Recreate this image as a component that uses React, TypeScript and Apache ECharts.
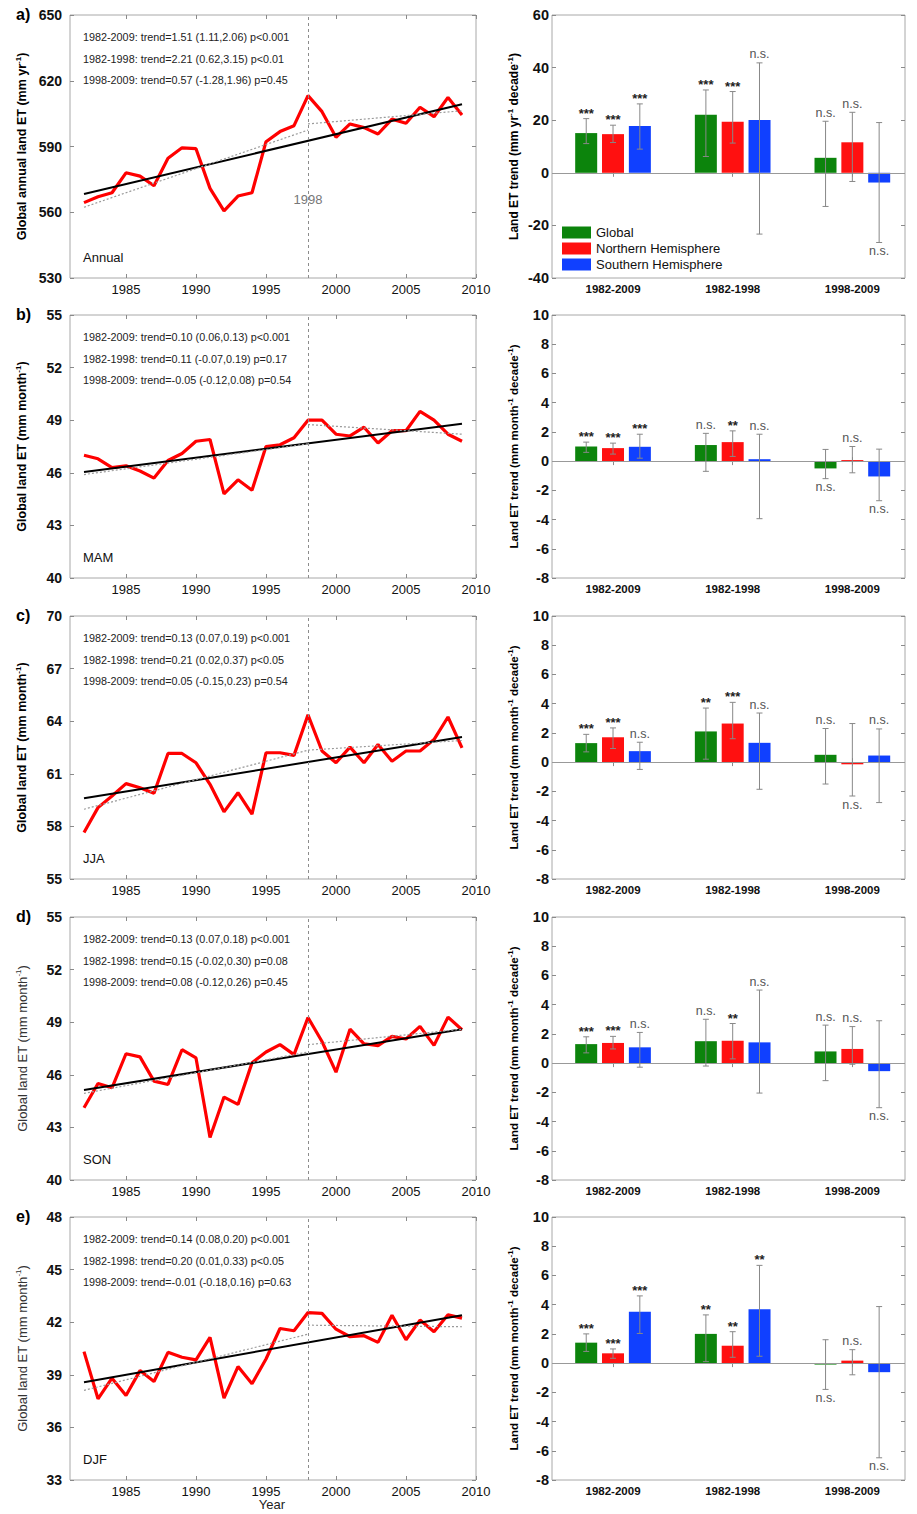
import React, { useEffect, useRef } from "react";
import * as echarts from "echarts";

const years = [1982, 1983, 1984, 1985, 1986, 1987, 1988, 1989, 1990, 1991, 1992, 1993, 1994, 1995, 1996, 1997, 1998, 1999, 2000, 2001, 2002, 2003, 2004, 2005, 2006, 2007, 2008, 2009];
const yearTicks = [1985, 1990, 1995, 2000, 2005, 2010];
const breakYear = 1998;

const annualET = [564.4, 567.1, 568.9, 578.0, 576.5, 572.1, 584.6, 589.4, 589.0, 570.9, 560.6, 567.4, 568.9, 592.2, 596.8, 599.5, 613.2, 605.9, 594.2, 600.3, 598.6, 595.7, 602.5, 600.6, 607.9, 603.6, 612.4, 604.4];
const mamET = [47.0, 46.8, 46.3, 46.4, 46.1, 45.7, 46.7, 47.1, 47.8, 47.9, 44.8, 45.6, 45.0, 47.5, 47.6, 48.0, 49.0, 49.0, 48.2, 48.1, 48.6, 47.7, 48.4, 48.4, 49.5, 49.0, 48.2, 47.8];
const jjaET = [57.65, 59.07, 59.73, 60.44, 60.2, 59.89, 62.16, 62.16, 61.63, 60.4, 58.83, 59.92, 58.7, 62.2, 62.2, 62.05, 64.37, 62.3, 61.63, 62.52, 61.63, 62.67, 61.72, 62.3, 62.3, 62.95, 64.24, 62.48];
const sonET = [44.12, 45.5, 45.26, 47.2, 47.02, 45.64, 45.45, 47.43, 46.96, 42.42, 44.73, 44.31, 46.68, 47.3, 47.72, 47.15, 49.27, 47.9, 46.15, 48.6, 47.77, 47.66, 48.19, 48.04, 48.76, 47.68, 49.29, 48.57];
const djfET = [40.32, 37.63, 38.81, 37.82, 39.24, 38.62, 40.28, 40.0, 39.85, 41.13, 37.67, 39.47, 38.49, 39.9, 41.64, 41.51, 42.55, 42.5, 41.6, 41.17, 41.23, 40.85, 42.4, 41.0, 42.12, 41.46, 42.42, 42.23];

// fitted trend lines: [1982-2009 start, end], [1982-1998 start, end], [1998-2009 start, end]
const annualFit = [[568.3, 609.3], [562.3, 597.5], [600.3, 606.3]];
const mamFit = [[46.05, 48.8], [45.9, 47.65], [48.75, 48.2]];
const jjaFit = [[59.6, 63.1], [58.98, 62.35], [62.35, 62.9]];
const sonFit = [[45.13, 48.6], [44.94, 47.3], [47.72, 48.6]];
const djfFit = [[38.58, 42.4], [38.11, 41.32], [41.83, 41.74]];

const annualTicks = [530, 560, 590, 620, 650];
const mamTicks = [40, 43, 46, 49, 52, 55];
const jjaTicks = [55, 58, 61, 64, 67, 70];
const sonTicks = [40, 43, 46, 49, 52, 55];
const djfTicks = [33, 36, 39, 42, 45, 48];

const annualNotes = ["1982-2009: trend=1.51 (1.11,2.06) p<0.001", "1982-1998: trend=2.21 (0.62,3.15) p<0.01", "1998-2009: trend=0.57 (-1.28,1.96) p=0.45"];
const mamNotes = ["1982-2009: trend=0.10 (0.06,0.13) p<0.001", "1982-1998: trend=0.11 (-0.07,0.19) p=0.17", "1998-2009: trend=-0.05 (-0.12,0.08) p=0.54"];
const jjaNotes = ["1982-2009: trend=0.13 (0.07,0.19) p<0.001", "1982-1998: trend=0.21 (0.02,0.37) p<0.05", "1998-2009: trend=0.05 (-0.15,0.23) p=0.54"];
const sonNotes = ["1982-2009: trend=0.13 (0.07,0.18) p<0.001", "1982-1998: trend=0.15 (-0.02,0.30) p=0.08", "1998-2009: trend=0.08 (-0.12,0.26) p=0.45"];
const djfNotes = ["1982-2009: trend=0.14 (0.08,0.20) p<0.001", "1982-1998: trend=0.20 (0.01,0.33) p<0.05", "1998-2009: trend=-0.01 (-0.18,0.16) p=0.63"];

const periods = ["1982-2009", "1982-1998", "1998-2009"];
const regions = ["Global", "Northern Hemisphere", "Southern Hemisphere"];

// bar values per region (rows: Global, NH, SH), per period
const annualBar = [[15.1, 22.1, 5.7], [14.7, 19.4, 11.6], [17.8, 20.1, -3.7]];
const annualLow = [[11.1, 6.2, -12.8], [11.5, 11.3, -3.3], [9.0, -23.3, -26.5]];
const annualHigh = [[20.6, 31.5, 19.6], [18.1, 30.9, 23.0], [26.2, 41.8, 19.1]];
const annualSig = [["***", "***", "n.s."], ["***", "***", "n.s."], ["***", "n.s.", "n.s."]];

const mamBar = [[1.0, 1.1, -0.5], [0.89, 1.3, 0.07], [0.98, 0.13, -1.05]];
const mamLow = [[0.6, -0.7, -1.2], [0.48, 0.32, -0.8], [0.2, -3.94, -2.71]];
const mamHigh = [[1.3, 1.9, 0.8], [1.23, 2.07, 1.0], [1.84, 1.84, 0.82]];
const mamSig = [["***", "n.s.", "n.s."], ["***", "**", "n.s."], ["***", "n.s.", "n.s."]];

const jjaBar = [[1.3, 2.1, 0.5], [1.7, 2.64, -0.15], [0.75, 1.32, 0.45]];
const jjaLow = [[0.7, 0.2, -1.5], [0.93, 1.6, -2.32], [-0.5, -1.86, -2.77]];
const jjaHigh = [[1.9, 3.7, 2.3], [2.34, 4.09, 2.64], [1.36, 3.36, 2.27]];
const jjaSig = [["***", "**", "n.s."], ["***", "***", "n.s."], ["n.s.", "n.s.", "n.s."]];

const sonBar = [[1.3, 1.5, 0.8], [1.38, 1.53, 0.97], [1.08, 1.42, -0.55]];
const sonLow = [[0.7, -0.2, -1.2], [0.97, 0.29, -0.08], [-0.28, -2.05, -3.05]];
const sonHigh = [[1.8, 3.0, 2.6], [1.83, 2.71, 2.5], [2.1, 5.0, 2.9]];
const sonSig = [["***", "n.s.", "n.s."], ["***", "**", "n.s."], ["n.s.", "n.s.", "n.s."]];

const djfBar = [[1.4, 2.0, -0.1], [0.67, 1.19, 0.17], [3.51, 3.69, -0.62]];
const djfLow = [[0.8, 0.1, -1.8], [0.33, 0.4, -0.8], [2.03, 0.47, -6.48]];
const djfHigh = [[2.0, 3.3, 1.6], [0.97, 2.15, 0.92], [4.6, 6.69, 3.87]];
const djfSig = [["***", "**", "n.s."], ["***", "**", "n.s."], ["***", "**", "n.s."]];

const FONT = "'Liberation Sans', Arial, Helvetica, sans-serif";
const COLORS = ["#0c840c", "#ff1010", "#1040ff"];
const LEFT_X = 70;
const LEFT_W = 406;
const RIGHT_X = 552;
const RIGHT_W = 353;
const PH = 263;
const TOPS = [15, 315, 616, 917, 1217];
const STEP = 26.8;

const nameYr = "{b|Global annual land ET (mm yr}{s|-1}{b|)}";
const nameMonth = "{b|Global land ET (mm month}{s|-1}{b|)}";
const barNameYr = "{b|Land ET trend (mm yr}{s|-1}{b| decade}{s|-1}{b|)}";
const barNameMonth = "{b|Land ET trend (mm month}{s|-1}{b| decade}{s|-1}{b|)}";

const rows = [
  { letter: "a)", season: "Annual", et: annualET, fit: annualFit, ticks: annualTicks, notes: annualNotes, name: nameYr, nameBold: true, bar: annualBar, low: annualLow, high: annualHigh, sig: annualSig, bMin: -40, bMax: 60, bInt: 20, bName: barNameYr, bNameSize: 12 },
  { letter: "b)", season: "MAM", et: mamET, fit: mamFit, ticks: mamTicks, notes: mamNotes, name: nameMonth, nameBold: true, bar: mamBar, low: mamLow, high: mamHigh, sig: mamSig, bMin: -8, bMax: 10, bInt: 2, bName: barNameMonth, bNameSize: 11.5 },
  { letter: "c)", season: "JJA", et: jjaET, fit: jjaFit, ticks: jjaTicks, notes: jjaNotes, name: nameMonth, nameBold: true, bar: jjaBar, low: jjaLow, high: jjaHigh, sig: jjaSig, bMin: -8, bMax: 10, bInt: 2, bName: barNameMonth, bNameSize: 11.5 },
  { letter: "d)", season: "SON", et: sonET, fit: sonFit, ticks: sonTicks, notes: sonNotes, name: nameMonth, nameBold: false, bar: sonBar, low: sonLow, high: sonHigh, sig: sonSig, bMin: -8, bMax: 10, bInt: 2, bName: barNameMonth, bNameSize: 11.5 },
  { letter: "e)", season: "DJF", et: djfET, fit: djfFit, ticks: djfTicks, notes: djfNotes, name: nameMonth, nameBold: false, bar: djfBar, low: djfLow, high: djfHigh, sig: djfSig, bMin: -8, bMax: 10, bInt: 2, bName: barNameMonth, bNameSize: 11.5 },
];

function richName(size: number, bold: boolean, color: string) {
  return {
    b: { fontSize: size, fontWeight: bold ? "bold" : "normal", color, fontFamily: FONT, lineHeight: 16 },
    s: { fontSize: 8, fontWeight: bold ? "bold" : "normal", color, fontFamily: FONT, verticalAlign: "top" },
  };
}

function buildOption() {
  const grid: any[] = [];
  const xAxis: any[] = [];
  const yAxis: any[] = [];
  const series: any[] = [];
  const graphic: any[] = [];
  const tickStyle = { inside: true, length: 4, lineStyle: { color: "#8a8a8a", width: 1 } };

  rows.forEach((r, p) => {
    const top = TOPS[p];
    // ----- left panel -----
    const gL = grid.length;
    grid.push({ left: LEFT_X, top, width: LEFT_W, height: PH, show: true, borderColor: "#a8a8a8", borderWidth: 1 });
    xAxis.push({
      type: "value", gridIndex: gL, min: 1981, max: 2010, position: "bottom",
      axisLine: { show: false }, splitLine: { show: false },
      axisTick: { ...tickStyle, customValues: yearTicks },
      axisLabel: { customValues: yearTicks, fontSize: 13, color: "#111", margin: 5, fontFamily: FONT, formatter: (v: number) => String(v) },
    });
    xAxis.push({
      type: "value", gridIndex: gL, min: 1981, max: 2010, position: "top",
      axisLine: { show: false }, splitLine: { show: false },
      axisTick: { ...tickStyle, customValues: yearTicks }, axisLabel: { show: false },
    });
    const nameColor = r.nameBold ? "#000" : "#333";
    yAxis.push({
      type: "value", gridIndex: gL, min: r.ticks[0], max: r.ticks[r.ticks.length - 1], position: "left",
      axisLine: { show: false }, splitLine: { show: false },
      axisTick: { ...tickStyle, customValues: r.ticks },
      axisLabel: { customValues: r.ticks, fontSize: 14, fontWeight: "bold", color: "#111", margin: 8, fontFamily: FONT, formatter: (v: number) => String(v) },
      name: r.name, nameLocation: "middle", nameGap: 40,
      nameTextStyle: { rich: richName(r.nameBold ? 12.5 : 13, r.nameBold, nameColor) },
    });
    yAxis.push({
      type: "value", gridIndex: gL, min: r.ticks[0], max: r.ticks[r.ticks.length - 1], position: "right",
      axisLine: { show: false }, splitLine: { show: false },
      axisTick: { ...tickStyle, customValues: r.ticks }, axisLabel: { show: false },
    });
    const xi = 2 * gL;
    series.push({
      type: "line", xAxisIndex: xi, yAxisIndex: xi, data: years.map((y, i) => [y, r.et[i]]),
      symbol: "none", lineStyle: { color: "#ff0000", width: 3.2 }, z: 3, silent: true,
      markLine: {
        silent: true, symbol: ["none", "none"], label: { show: false },
        lineStyle: { color: "#8c8c8c", type: [3, 3], width: 1 },
        data: [{ xAxis: breakYear }],
      },
    });
    series.push({
      type: "line", xAxisIndex: xi, yAxisIndex: xi,
      data: [[years[0], r.fit[0][0]], [years[years.length - 1], r.fit[0][1]]],
      symbol: "none", lineStyle: { color: "#000", width: 2 }, z: 4, silent: true,
    });
    series.push({
      type: "line", xAxisIndex: xi, yAxisIndex: xi,
      data: [[years[0], r.fit[1][0]], [breakYear, r.fit[1][1]]],
      symbol: "none", lineStyle: { color: "#9a9a9a", width: 1.2, type: [2, 2] }, z: 5, silent: true,
    });
    series.push({
      type: "line", xAxisIndex: xi, yAxisIndex: xi,
      data: [[breakYear, r.fit[2][0]], [years[years.length - 1], r.fit[2][1]]],
      symbol: "none", lineStyle: { color: "#9a9a9a", width: 1.2, type: [2, 2] }, z: 5, silent: true,
    });

    // ----- right panel -----
    const gR = grid.length;
    grid.push({ left: RIGHT_X, top, width: RIGHT_W, height: PH, show: true, borderColor: "#a8a8a8", borderWidth: 1 });
    const catPos = [1, 2, 3];
    xAxis.push({
      type: "value", gridIndex: gR, min: 0.49, max: 3.44, position: "bottom",
      axisLine: { show: false }, splitLine: { show: false },
      axisTick: { ...tickStyle, customValues: catPos },
      axisLabel: {
        customValues: catPos, fontSize: 11.5, fontWeight: "bold", color: "#111", margin: 5, fontFamily: FONT,
        formatter: (v: number) => periods[Math.round(v) - 1] || "",
      },
    });
    xAxis.push({
      type: "value", gridIndex: gR, min: 0.49, max: 3.44, position: "top",
      axisLine: { show: false }, splitLine: { show: false },
      axisTick: { ...tickStyle, customValues: catPos }, axisLabel: { show: false },
    });
    yAxis.push({
      type: "value", gridIndex: gR, min: r.bMin, max: r.bMax, interval: r.bInt, position: "left",
      axisLine: { show: false }, splitLine: { show: false }, axisTick: tickStyle,
      axisLabel: { fontSize: 14.5, fontWeight: "bold", color: "#111", margin: 3, fontFamily: FONT },
      name: r.bName, nameLocation: "middle", nameGap: 30,
      nameTextStyle: { rich: richName(r.bNameSize, true, "#000") },
    });
    yAxis.push({
      type: "value", gridIndex: gR, min: r.bMin, max: r.bMax, interval: r.bInt, position: "right",
      axisLine: { show: false }, splitLine: { show: false }, axisTick: tickStyle, axisLabel: { show: false },
    });
    const ri = 2 * gR;
    regions.forEach((name, k) => {
      series.push({
        type: "bar", name, xAxisIndex: ri, yAxisIndex: ri,
        data: catPos.map((c, j) => [c, r.bar[k][j]]),
        barWidth: 22, barGap: "22%", itemStyle: { color: COLORS[k] }, silent: true, z: 2,
        markLine: k === 0 ? {
          silent: true, symbol: ["none", "none"], label: { show: false },
          lineStyle: { color: "#999", type: "solid", width: 1.2 }, data: [{ yAxis: 0 }],
        } : undefined,
      });
    });
    const errData: number[][] = [];
    const sigFlat: string[] = [];
    regions.forEach((_, k) => {
      catPos.forEach((c, j) => {
        errData.push([c, k, r.bar[k][j], r.low[k][j], r.high[k][j]]);
        sigFlat.push(r.sig[k][j]);
      });
    });
    series.push({
      type: "custom", xAxisIndex: ri, yAxisIndex: ri, data: errData, z: 6, silent: true,
      encode: { x: 0, y: 3 },
      renderItem: (params: any, api: any) => {
        const c = api.value(0);
        const k = api.value(1);
        const v = api.value(2);
        const lo = api.value(3);
        const hi = api.value(4);
        const pH = api.coord([c, hi]);
        const pL = api.coord([c, lo]);
        const x = pH[0] + (k - 1) * STEP;
        const cap = 3;
        const sig = sigFlat[params.dataIndex];
        const ns = sig === "n.s.";
        let ty: number;
        let va: string;
        if (v >= 0) {
          ty = ns ? pH[1] - 2 : pH[1] - 12;
          va = ns ? "bottom" : "top";
        } else {
          ty = pL[1] + 2;
          va = "top";
        }
        const st = { stroke: "#888888", lineWidth: 1 };
        return {
          type: "group",
          children: [
            { type: "line", shape: { x1: x, y1: pH[1], x2: x, y2: pL[1] }, style: st },
            { type: "line", shape: { x1: x - cap, y1: pH[1], x2: x + cap, y2: pH[1] }, style: st },
            { type: "line", shape: { x1: x - cap, y1: pL[1], x2: x + cap, y2: pL[1] }, style: st },
            {
              type: "text",
              style: {
                text: sig, x, y: ty, align: "center", verticalAlign: va,
                fontSize: ns ? 12.5 : 13, fontWeight: ns ? "normal" : "bold",
                fill: ns ? "#555555" : "#222222", fontFamily: FONT,
              },
            },
          ],
        };
      },
    });

    // ----- texts -----
    graphic.push({ type: "text", left: 16, top: top - 9, style: { text: r.letter, fontSize: 16, fontWeight: "bold", fill: "#000", fontFamily: FONT } });
    r.notes.forEach((t, i) => {
      graphic.push({
        type: "text", x: 83, y: top + 22 + i * 21.5,
        style: { text: t, fontSize: 10.8, fill: "#222", fontFamily: FONT, verticalAlign: "middle", align: "left" },
      });
    });
    graphic.push({
      type: "text", x: 83, y: top + 242,
      style: { text: r.season, fontSize: 13, fill: "#111", fontFamily: FONT, verticalAlign: "middle", align: "left" },
    });
  });

  graphic.push({ type: "text", x: 308, y: 199, style: { text: "1998", fontSize: 13, fill: "#777", fontFamily: FONT, align: "center", verticalAlign: "middle" } });
  graphic.push({ type: "text", x: 272, y: 1504, style: { text: "Year", fontSize: 13, fill: "#222", fontFamily: FONT, align: "center", verticalAlign: "middle" } });

  return {
    animation: false,
    textStyle: { fontFamily: FONT },
    grid, xAxis, yAxis, series, graphic,
    legend: {
      data: regions, orient: "vertical", left: 562, top: 226, itemWidth: 29, itemHeight: 12, itemGap: 3,
      icon: "rect", padding: 0, selectedMode: false,
      textStyle: { fontSize: 13, color: "#111", fontFamily: FONT, lineHeight: 13 },
    },
  };
}

export default function App() {
  const ref = useRef<HTMLDivElement>(null);
  useEffect(() => {
    document.body.style.margin = "0";
    const chart = echarts.init(ref.current as HTMLDivElement, null, { renderer: "svg" });
    chart.setOption(buildOption() as any);
    return () => chart.dispose();
  }, []);
  return <div ref={ref} style={{ width: 917, height: 1514 }} />;
}
